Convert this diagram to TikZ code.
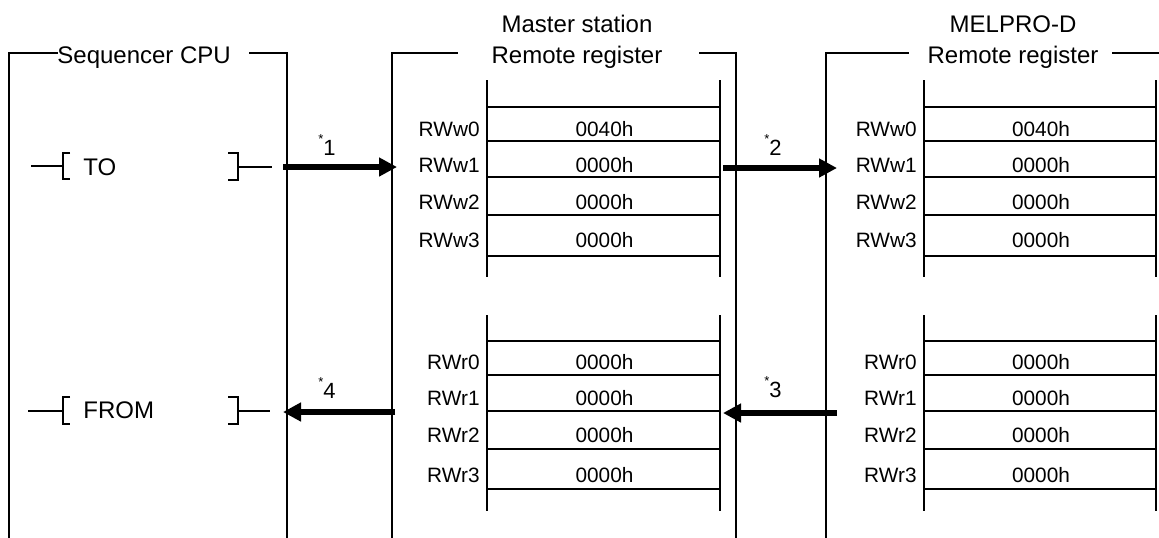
\documentclass[tikz,border=0pt]{standalone}
\usepackage{fontspec}
\setmainfont{Liberation Sans}
\usetikzlibrary{arrows.meta}
\tikzset{
  frame/.style={line width=0.75pt, line cap=rect},
  tbl/.style={line width=0.75pt},
  ttl/.style={font=\fontsize{12}{14}\selectfont, inner sep=0pt, anchor=base},
  reg/.style={font=\fontsize{10.4}{12}\selectfont, inner sep=0pt, anchor=base east},
  val/.style={font=\fontsize{10.4}{12}\selectfont, inner sep=0pt, anchor=base},
  rung/.style={font=\fontsize{12}{14}\selectfont, inner sep=0pt, anchor=base west},
  num/.style={font=\fontsize{11}{12}\selectfont, inner sep=0pt, anchor=base},
  flow/.style={line width=2.6pt, -{Triangle[length=9pt,width=9pt]}},
}
\newcommand{\astnum}[1]{\raisebox{6pt}{\fontsize{6.5}{6.5}\selectfont *}#1}
\begin{document}
\begin{tikzpicture}[x=0.5pt,y=-0.5pt]
\useasboundingbox (0,0) rectangle (1159,537);
% ---- Sequencer CPU frame
\node[ttl, anchor=base west] (tcpu) at (57,63) {Sequencer CPU};
\draw[frame] (9,537) -- (9,53) -- (57,53);
\draw[frame] (250,53) -- (287,53) -- (287,537);
% ---- Master station frame
\node[ttl] (tms1) at (577,32) {Master station};
\node[ttl] (tms2) at (577,63) {Remote register};
\draw[frame] (392,537) -- (392,53) -- (457,53);
\draw[frame] (700,53) -- (736,53) -- (736,537);
% ---- MELPRO-D frame
\node[ttl] (tmd1) at (1013,32) {MELPRO-D};
\node[ttl] (tmd2) at (1013,63) {Remote register};
\draw[frame] (826,537) -- (826,53) -- (908,53);
\draw[frame] (1113,53) -- (1159,53);
% ---- tables
\foreach \L/\R/\lx/\cx/\id in {487/720/480/604.5/m, 924/1156/917/1041/d}{
  % upper
  \draw[tbl] (\L,80) -- (\L,277);
  \draw[tbl] (\R,80) -- (\R,277);
  \foreach \yy in {107,141,177,215,256} \draw[tbl] (\L,\yy) -- (\R,\yy);
  % lower
  \draw[tbl] (\L,315) -- (\L,511);
  \draw[tbl] (\R,315) -- (\R,511);
  \foreach \yy in {341,375,411,449,489} \draw[tbl] (\L,\yy) -- (\R,\yy);
  % labels
  \node[reg] (\id w0) at (\lx,136) {RWw0};
  \node[reg] (\id w1) at (\lx,172) {RWw1};
  \node[reg] (\id w2) at (\lx,209) {RWw2};
  \node[reg] (\id w3) at (\lx,247) {RWw3};
  \node[val] (\id vw0) at (\cx,136) {0040h};
  \node[val] (\id vw1) at (\cx,172) {0000h};
  \node[val] (\id vw2) at (\cx,209) {0000h};
  \node[val] (\id vw3) at (\cx,247) {0000h};
  \node[reg] (\id r0) at (\lx,369) {RWr0};
  \node[reg] (\id r1) at (\lx,405) {RWr1};
  \node[reg] (\id r2) at (\lx,442) {RWr2};
  \node[reg] (\id r3) at (\lx,482) {RWr3};
  \node[val] (\id vr0) at (\cx,369) {0000h};
  \node[val] (\id vr1) at (\cx,405) {0000h};
  \node[val] (\id vr2) at (\cx,442) {0000h};
  \node[val] (\id vr3) at (\cx,482) {0000h};
}
% ---- ladder rungs
\node[rung] (to) at (83,175) {TO};
\draw[tbl] (31,166) -- (63,166);
\draw[tbl] (70,153) -- (63,153) -- (63,179) -- (70,179);
\draw[tbl] (228,153) -- (238,153) -- (238,180) -- (228,180);
\draw[tbl] (238,167) -- (272,167);
\node[rung] (from) at (83,418) {FROM};
\draw[tbl] (28,411) -- (63,411);
\draw[tbl] (70,397) -- (63,397) -- (63,424) -- (70,424);
\draw[tbl] (228,397) -- (238,397) -- (238,424) -- (228,424);
\draw[tbl] (238,411) -- (270,411);
% ---- arrows
\coordinate (a1s) at (283,167); \coordinate (a1e) at (397,167);
\coordinate (a2s) at (723,168); \coordinate (a2e) at (837,168);
\coordinate (a3s) at (837,413); \coordinate (a3e) at (723,413);
\coordinate (a4s) at (395,412); \coordinate (a4e) at (283,412);
\draw[flow] (a1s) -- (a1e);
\draw[flow] (a2s) -- (a2e);
\draw[flow] (a3s) -- (a3e);
\draw[flow] (a4s) -- (a4e);
\node[num] (n1) at (327,155) {\astnum{1}};
\node[num] (n2) at (773,155) {\astnum{2}};
\node[num] (n3) at (773,397) {\astnum{3}};
\node[num] (n4) at (327,398) {\astnum{4}};
\end{tikzpicture}
\end{document}
